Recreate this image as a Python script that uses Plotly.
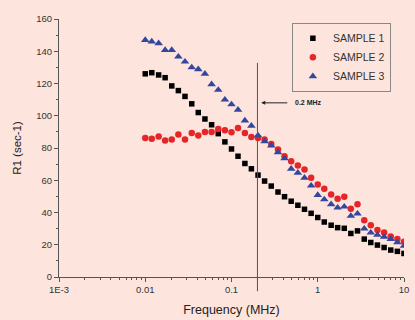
import plotly.graph_objects as go

freq = [0.01, 0.0119, 0.0143, 0.0170, 0.0203, 0.0242, 0.0289, 0.0346, 0.0412, 0.0492,
        0.0588, 0.0702, 0.0838, 0.1, 0.119, 0.143, 0.170, 0.203, 0.242, 0.289,
        0.346, 0.412, 0.492, 0.588, 0.702, 0.838, 1.0, 1.19, 1.43, 1.70,
        2.03, 2.42, 2.89, 3.46, 4.12, 4.92, 5.88, 7.02, 8.38, 10.0]

sample1 = [126, 126.7, 125.3, 123.6, 118.5, 115.6, 112, 107.4, 102, 98,
           94.4, 88.9, 83.8, 79.4, 74.9, 70.4, 67.1, 63.2, 59.5, 56.4,
           52.7, 49.8, 47, 44.5, 42, 39.5, 36.9, 34.1, 32.1, 30.6,
           30.2, 27, 28.6, 23.5, 21.4, 19.8, 18.3, 16.7, 15.9, 14.6]

sample2 = [86.2, 85.8, 87.2, 84.6, 85.2, 88.3, 85.2, 89.3, 87.8, 89.9,
           89.9, 91.8, 91, 89.7, 92.4, 89.3, 86.8, 86.2, 85.2, 82.5,
           79, 74.9, 71.8, 69.1, 66.7, 61.5, 57.4, 54.7, 51.2, 48.6,
           49.8, 42.4, 45.1, 35.2, 32.1, 29.2, 27.6, 25.1, 23.5, 21.8]

sample3 = [146.9, 146, 144.9, 140.7, 140.7, 136.6, 133.5, 130, 128.8, 126,
           119.5, 116, 110, 107, 103.7, 97, 93.8, 87.8, 84.1, 81.5,
           77.3, 73.5, 67.1, 64.6, 61.5, 56.6, 50.8, 48.1, 45.1, 43,
           43.6, 37.9, 39.3, 30, 27.5, 26.1, 24.9, 23.5, 21.4, 19.3]

x_tickvals = [0.001, 0.01, 0.1, 1, 10]
x_ticktext = ["1E-3", "0.01", "0.1", "1", "10"]
x_minor = [0.002, 0.003, 0.004, 0.005, 0.006, 0.007, 0.008, 0.009,
           0.02, 0.03, 0.04, 0.05, 0.06, 0.07, 0.08, 0.09,
           0.2, 0.3, 0.4, 0.5, 0.6, 0.7, 0.8, 0.9,
           2, 3, 4, 5, 6, 7, 8, 9]
marker_freq = 0.2

bg = "#fde4dc"
font_family = "Liberation Sans, Arial, sans-serif"

fig = go.Figure()
fig.add_trace(go.Scatter(x=freq, y=sample1, mode="markers", name="SAMPLE 1",
                         marker=dict(symbol="square", size=5.5, color="#000000")))
fig.add_trace(go.Scatter(x=freq, y=sample2, mode="markers", name="SAMPLE 2",
                         marker=dict(symbol="circle", size=6.5, color="#e52528")))
fig.add_trace(go.Scatter(x=freq, y=sample3, mode="markers", name="SAMPLE 3",
                         marker=dict(symbol="triangle-up", size=7.5, color="#34479e")))

fig.add_shape(type="line", xref="x", yref="paper", x0=marker_freq, x1=marker_freq,
              y0=-0.055, y1=0.83, line=dict(color="#555555", width=1))

fig.add_annotation(x=-0.655, y=108, xref="x", yref="y", text="<b>0.2 MHz</b>",
                   showarrow=True, ax=47, ay=0, arrowhead=2, arrowsize=0.8,
                   arrowwidth=1, arrowcolor="#222222", startstandoff=6,
                   font=dict(size=7, color="#222222", family=font_family))

fig.update_layout(
    width=415, height=320,
    margin=dict(l=59, r=6, t=19, b=42),
    paper_bgcolor=bg, plot_bgcolor=bg,
    font=dict(family=font_family, color="#333333"),
    showlegend=True,
    legend=dict(x=0.675, y=0.985, xanchor="left", yanchor="top",
                bgcolor=bg, bordercolor="#888888", borderwidth=1,
                font=dict(size=10.5, color="#333333"),
                itemwidth=30, tracegroupgap=0),
)

fig.update_xaxes(type="log", range=[-3, 1], showgrid=False, zeroline=False,
                 showline=True, linecolor="#555555", linewidth=1,
                 ticks="outside", ticklen=4, tickcolor="#555555",
                 tickvals=x_tickvals, ticktext=x_ticktext,
                 tickfont=dict(size=9.5, color="#333333"),
                 minor=dict(tickvals=x_minor, ticks="outside", ticklen=2,
                            tickcolor="#555555", showgrid=False),
                 title=dict(text="Frequency (MHz)", font=dict(size=12.5, color="#222222"),
                            standoff=10))

fig.update_yaxes(range=[0, 160], showgrid=False, zeroline=False,
                 showline=True, linecolor="#555555", linewidth=1,
                 ticks="outside", ticklen=4, tickcolor="#555555", dtick=20,
                 tickfont=dict(size=9.5, color="#333333"),
                 minor=dict(dtick=10, ticks="outside", ticklen=2,
                            tickcolor="#555555", showgrid=False),
                 title=dict(text="R1 (sec-1)", font=dict(size=11.5, color="#222222"),
                            standoff=12))

fig.write_html("out.html")
